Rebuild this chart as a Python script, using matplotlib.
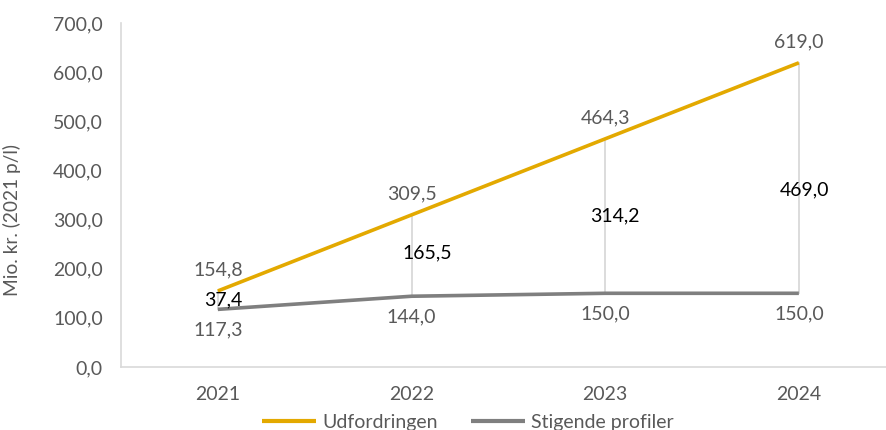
import matplotlib
matplotlib.use("Agg")
import matplotlib.pyplot as plt
from matplotlib.ticker import FuncFormatter

years = ["2021", "2022", "2023", "2024"]
udfordringen = [154.8, 309.5, 464.3, 619.0]
stigende = [117.3, 144.0, 150.0, 150.0]
forskel = [37.4, 165.5, 314.2, 469.0]

plt.rcParams['font.family'] = ['Lato', 'DejaVu Sans']

GOLD = "#E3A900"
GRAY = "#7F7F7F"
TXT = "#595959"
FS = 14

fig = plt.figure(figsize=(8.86, 4.30), dpi=100)
ax = fig.add_axes([0.1366, 0.1465, 0.8634, 0.80])

x = list(range(len(years)))
fmt = lambda v: f"{v:.1f}".replace(".", ",")

# high-low lines
for i in x:
    ax.plot([i, i], [stigende[i], udfordringen[i]], color="#D9D9D9", lw=1.3, zorder=1)

ax.plot(x, udfordringen, color=GOLD, lw=2.6, label="Udfordringen", zorder=3, solid_capstyle="butt")
ax.plot(x, stigende, color=GRAY, lw=2.6, label="Stigende profiler", zorder=3, solid_capstyle="butt")

for i in x:
    ax.annotate(fmt(udfordringen[i]), (i, udfordringen[i]), xytext=(0, 9), textcoords="offset points",
                ha="center", va="bottom", color=TXT, fontsize=FS)
    ax.annotate(fmt(stigende[i]), (i, stigende[i]), xytext=(0, -9), textcoords="offset points",
                ha="center", va="top", color=TXT, fontsize=FS)

diff_off = [(3.6, 0), (11, 2), (7, 0), (4, -8.6)]
for i in x:
    mid = (udfordringen[i] + stigende[i]) / 2
    ax.annotate(fmt(forskel[i]), (i, mid), xytext=diff_off[i], textcoords="offset points",
                ha="center", va="center", color="black", fontsize=FS)

ax.set_xlim(-0.5, 3.45)
ax.set_ylim(0, 700)
ax.set_yticks(range(0, 701, 100))
ax.yaxis.set_major_formatter(FuncFormatter(lambda v, p: fmt(v)))
ax.set_xticks(x)
ax.set_xticklabels(years)
ax.tick_params(axis="both", length=0, colors=TXT, labelsize=FS)
ax.tick_params(axis="x", pad=14)
ax.tick_params(axis="y", pad=13)

for s in ["top", "right"]:
    ax.spines[s].set_visible(False)
for s in ["left", "bottom"]:
    ax.spines[s].set_color("#D9D9D9")
    ax.spines[s].set_linewidth(1.2)

ax.set_ylabel("Mio. kr. (2021 p/l)", color=TXT, fontsize=13.8)
ax.yaxis.set_label_coords(-0.131, 0.427)

leg = fig.legend(loc="center", bbox_to_anchor=(0.528, 0.0186), ncol=2, frameon=False,
                 fontsize=FS, labelcolor=TXT, handlelength=2.8, columnspacing=1.7, handletextpad=0.3)
for h in leg.legend_handles:
    h.set_linewidth(3)

fig.savefig("out.png", dpi=100)
